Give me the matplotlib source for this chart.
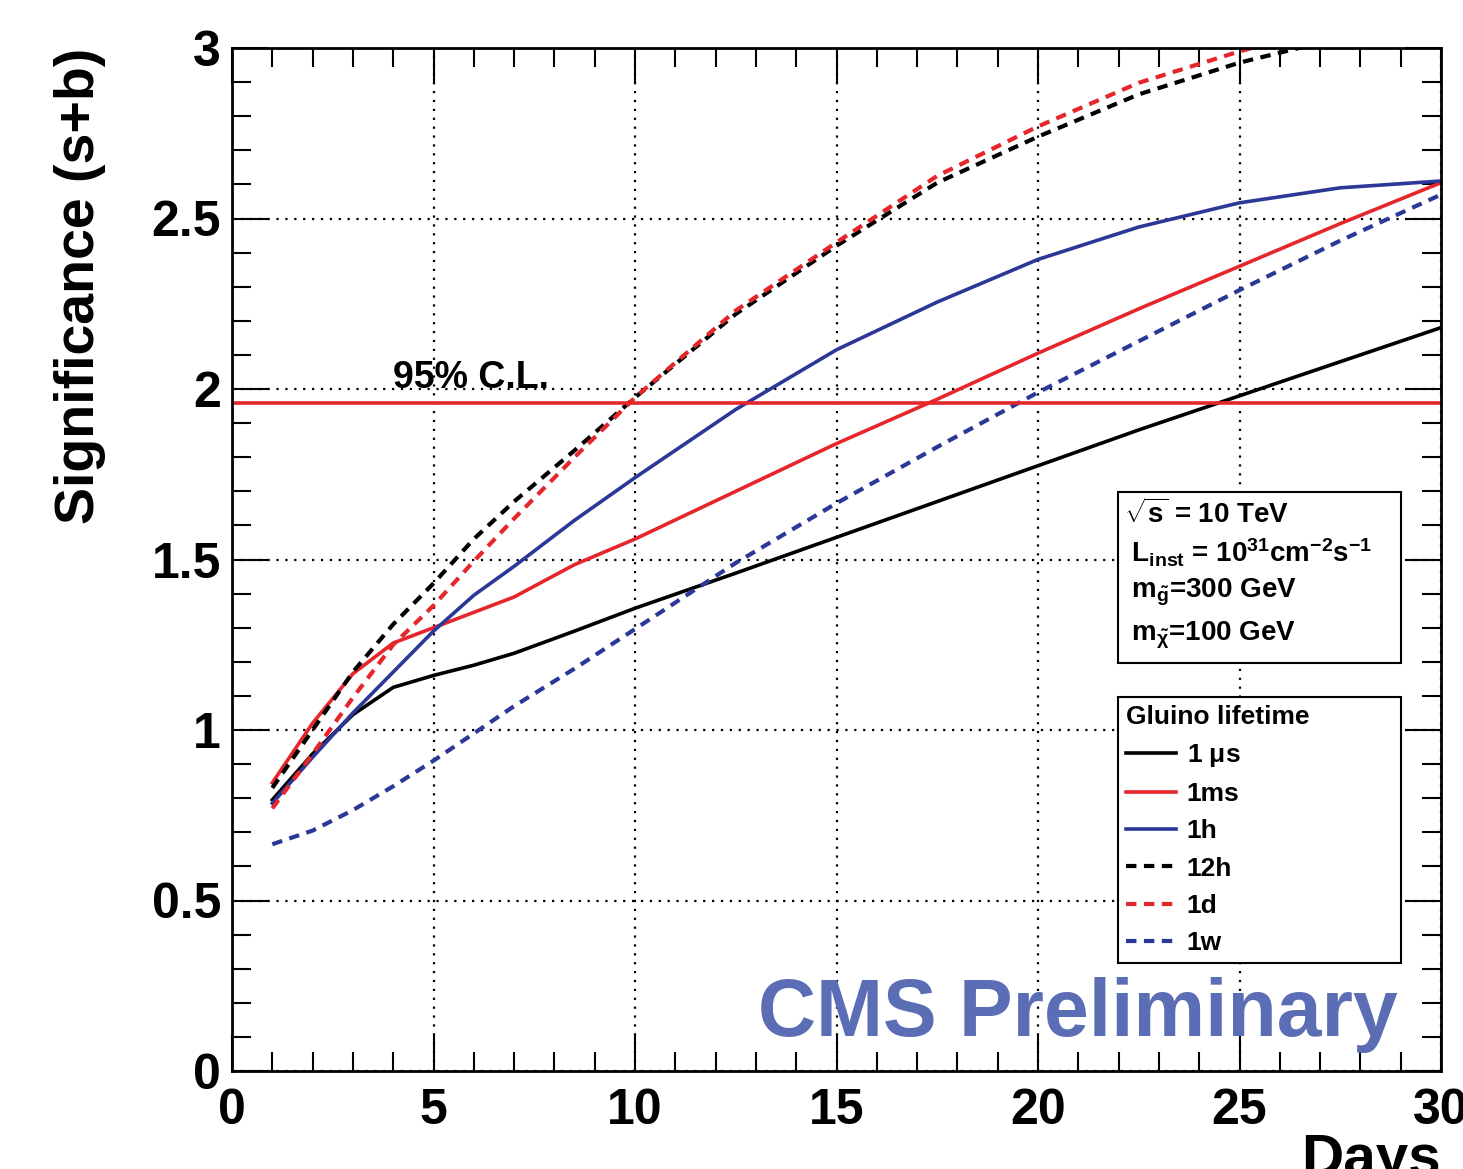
import numpy as np
import matplotlib
matplotlib.use("Agg")
import matplotlib.pyplot as plt
from matplotlib.patches import Rectangle

plt.rcParams['font.family'] = ['Liberation Sans', 'DejaVu Sans']
plt.rcParams['font.weight'] = 'bold'
plt.rcParams['mathtext.fontset'] = 'custom'
plt.rcParams['mathtext.rm'] = 'Liberation Sans:bold'
plt.rcParams['mathtext.bf'] = 'Liberation Sans:bold'
plt.rcParams['mathtext.it'] = 'Liberation Sans:bold'

#### data
days = [1, 2, 3, 4, 5, 6, 7, 8.5, 10, 12.5, 15, 17.5, 20, 22.5, 25, 27.5, 30]
sig_1us = [0.795, 0.93, 1.045, 1.125, 1.16, 1.19, 1.225, 1.29, 1.357, 1.46, 1.565,
           1.67, 1.775, 1.88, 1.98, 2.08, 2.18]
sig_1ms = [0.845, 1.02, 1.165, 1.255, 1.30, 1.345, 1.39, 1.485, 1.56, 1.70, 1.84,
           1.97, 2.105, 2.235, 2.36, 2.485, 2.605]
sig_1h = [0.785, 0.92, 1.05, 1.17, 1.29, 1.395, 1.48, 1.615, 1.74, 1.94, 2.115,
          2.255, 2.38, 2.475, 2.546, 2.59, 2.61]
sig_12h = [0.83, 1.0, 1.17, 1.31, 1.43, 1.56, 1.67, 1.82, 1.975, 2.22, 2.42,
           2.605, 2.74, 2.864, 2.957, 3.03, 3.1]
sig_1d = [0.77, 0.93, 1.095, 1.25, 1.365, 1.495, 1.62, 1.80, 1.975, 2.23, 2.43,
          2.625, 2.77, 2.898, 2.99, 3.07, 3.14]
sig_1w = [0.665, 0.705, 0.765, 0.835, 0.91, 0.99, 1.07, 1.18, 1.296, 1.49, 1.665,
          1.83, 1.99, 2.14, 2.29, 2.435, 2.57]
cl95 = 1.96

labels = ["1 $\\mu$s", "1ms", "1h", "12h", "1d", "1w"]
series = [sig_1us, sig_1ms, sig_1h, sig_12h, sig_1d, sig_1w]
RED = "#e5262b"
BLUE = "#2c3897"
colors = ["black", RED, BLUE, "black", RED, BLUE]
styles = ["-", "-", "-", "--", "--", "--"]

fig = plt.figure(figsize=(14.63, 11.69), dpi=100)
ax = fig.add_axes([232/1463, 98/1169, 1209/1463, 1023/1169])

for y, c, ls, lab in zip(series, colors, styles, labels):
    if ls == "--":
        ax.plot(days, y, color=c, lw=3, dashes=(2.5, 1.8), label=lab)
    else:
        ax.plot(days, y, color=c, lw=2.6, label=lab)

ax.axhline(cl95, color=RED, lw=2.6)
ax.text(4.0, 2.003, "95% C.L.", fontsize=27, weight='bold', ha='left', va='baseline')

ax.set_xlim(0, 30)
ax.set_ylim(0, 3)
ax.set_xticks([0, 5, 10, 15, 20, 25, 30])
ax.set_xticks(np.arange(0, 31, 1), minor=True)
ax.set_yticks([0, 0.5, 1, 1.5, 2, 2.5, 3])
ax.set_yticklabels(["0", "0.5", "1", "1.5", "2", "2.5", "3"])
ax.set_yticks(np.arange(0, 3.01, 0.1), minor=True)
ax.tick_params(which='both', direction='in', top=True, right=True, width=1.5)
ax.tick_params(which='major', length=26, labelsize=36)
ax.tick_params(which='minor', length=14)
ax.tick_params(axis='y', which='major', pad=8)
ax.tick_params(axis='x', which='major', pad=12)
for s in ax.spines.values():
    s.set_linewidth(2)
ax.grid(True, which='major', ls=(0, (1, 3)), color='black', lw=1.6)

# info box
ax.add_patch(Rectangle(((1118-232)/40.3, (1071-663)/341), (1401-1118)/40.3, (663-492)/341,
                       facecolor='white', edgecolor='black', lw=1.5, zorder=5))
bx = (1124-232)/40.3
info = [r"$\sqrt{\mathbf{s}}$ = 10 TeV",
        r" L$_{\mathbf{inst}}$ = 10$^{\mathbf{31}}$cm$^{\mathbf{-2}}$s$^{\mathbf{-1}}$",
        r" m$_{\tilde{\mathbf{g}}}$=300 GeV",
        r" m$_{\tilde{\chi}}$=100 GeV"]
info_y = [514, 553, 592, 635]
for t, py in zip(info, info_y):
    ax.text(bx, (1071-py)/341, t, fontsize=20, weight='bold', ha='left', va='center', zorder=6)

leg = ax.legend(title="Gluino lifetime", loc='upper left',
                bbox_to_anchor=((1118-232)/1209, (1071-970)/1023, (1401-1118)/1209, (970-697)/1023),
                mode='expand', fontsize=19, title_fontsize=19, frameon=True, fancybox=False,
                edgecolor='black', framealpha=1, handlelength=1.9, handletextpad=0.4,
                labelspacing=0.5, borderaxespad=0, borderpad=0.3, alignment='left')
leg.get_frame().set_linewidth(1.5)
leg.get_title().set_fontweight('bold')
leg.set_zorder(6)

ax.text((1398-232)/40.3, (1071-1036)/341, "CMS Preliminary", fontsize=58, weight='bold',
        color="#5b6db5", ha='right', va='baseline', zorder=7)

fig.text(80/1463, 1 - 48/1169, "Significance (s+b)", rotation=90, fontsize=40, weight='bold',
         ha='center', va='top')
fig.text(1441/1463, 1 - 1133/1169, "Days", fontsize=42, weight='bold', ha='right', va='top')

fig.savefig("out.png", dpi=100)
